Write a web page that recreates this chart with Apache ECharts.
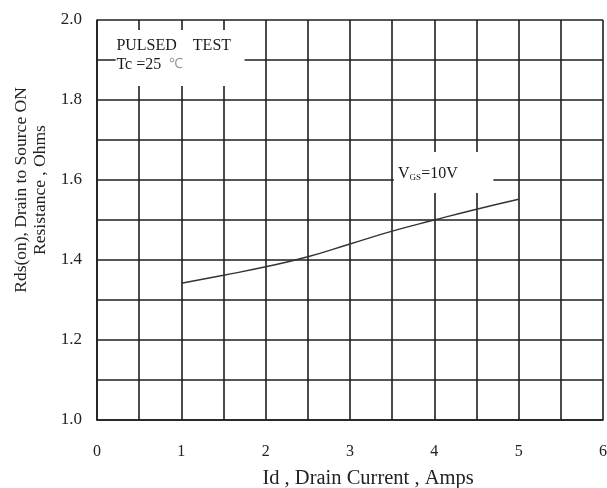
<!DOCTYPE html>
<html><head><meta charset="utf-8">
<script src="https://cdn.jsdelivr.net/npm/echarts@6/dist/echarts.min.js"></script>
<style>html,body{margin:0;padding:0;background:#fff}#c{width:607px;height:488px}</style>
</head><body><div id="c"></div>
<script>
const currentId = [1, 1.5, 2, 2.5, 3, 3.5, 4, 4.5, 5];
const rdsOn = [1.342, 1.362, 1.383, 1.408, 1.44, 1.472, 1.50, 1.527, 1.552];
const xTicks = [0, 1, 2, 3, 4, 5, 6];
const yTicks = [1.0, 1.2, 1.4, 1.6, 1.8, 2.0];
const noteLines = ['PULSED    TEST', 'Tc =25  '];
const curveLabel = ['V', 'GS', '=10V'];

const font = 'Liberation Serif';
const chart = echarts.init(document.getElementById('c'));
const gridLine = { show: true, lineStyle: { color: '#1e1e1e', width: 1.6 } };
chart.setOption({
  animation: false,
  backgroundColor: '#fff',
  grid: { left: 97, right: 4, top: 20, bottom: 68, containLabel: false, outerBoundsMode: 'none' },
  xAxis: {
    type: 'value', min: 0, max: 6, interval: 0.5,
    axisLine: { show: true, lineStyle: { color: '#1e1e1e', width: 1.6 } },
    axisTick: { show: false },
    splitLine: gridLine,
    axisLabel: {
      margin: 24, fontFamily: font, fontSize: 16, color: '#222',
      formatter: v => xTicks.indexOf(Math.round(v * 2) / 2) >= 0 ? String(Math.round(v * 2) / 2) : ''
    },
    name: 'Id , Drain Current , Amps', nameLocation: 'middle', nameGap: 48,
    nameTextStyle: { fontFamily: font, fontSize: 20.5, color: '#222', padding: [0, 0, 0, 36] }
  },
  yAxis: {
    type: 'value', min: 1.0, max: 2.0, interval: 0.1,
    axisLine: { show: true, lineStyle: { color: '#1e1e1e', width: 1.6 } },
    axisTick: { show: false },
    splitLine: gridLine,
    axisLabel: {
      margin: 15, fontFamily: font, fontSize: 17, color: '#222',
      formatter: v => {
        const r = Math.round(v * 10) / 10;
        return yTicks.some(t => Math.abs(t - r) < 1e-6) ? r.toFixed(1) : '';
      }
    },
    name: 'Rds(on), Drain to Source ON\nResistance , Ohms', nameLocation: 'middle', nameGap: 47,
    nameTextStyle: { fontFamily: font, fontSize: 17.5, color: '#222', lineHeight: 19, padding: [0, 0, 0, 60] }
  },
  series: [{
    type: 'line', smooth: true, symbol: 'none',
    data: currentId.map((x, i) => [x, rdsOn[i]]),
    lineStyle: { color: '#333', width: 1.4 },
    markArea: {
      silent: true,
      itemStyle: { color: '#fff', opacity: 1 },
      label: { show: false },
      data: [
        [{ coord: [0.22, 1.975] }, { coord: [1.75, 1.835] }],
        [{ coord: [3.52, 1.67] }, { coord: [4.7, 1.5675] }]
      ]
    },
    z: 3
  }]
});

function place() {
  const p1 = chart.convertToPixel({ gridIndex: 0 }, [0.23, 1.96]);
  const p2 = chart.convertToPixel({ gridIndex: 0 }, [3.57, 1.635]);
  chart.setOption({
    graphic: [
      { type: 'text', left: p1[0], top: p1[1], z: 10,
        style: { text: '{a|' + noteLines[0] + '}\n{a|' + noteLines[1] + '}{g|℃}', fill: '#222', fontFamily: font, fontSize: 16, lineHeight: 19,
          rich: { a: { fontFamily: font, fontSize: 16, fill: '#1a1a1a', lineHeight: 19 }, g: { fontFamily: font, fontSize: 14, fill: '#999', lineHeight: 19 } } } },
      { type: 'text', left: p2[0], top: p2[1], z: 10,
        style: { text: '{v|' + curveLabel[0] + '}{s|' + curveLabel[1] + '}{v|' + curveLabel[2] + '}', fontFamily: font,
          rich: { v: { fontFamily: font, fontSize: 16, fill: '#1a1a1a', verticalAlign: 'bottom' },
                  s: { fontFamily: font, fontSize: 9, fill: '#1a1a1a', verticalAlign: 'bottom', padding: [6, 0, 0, 0] } } } }
    ]
  });
}
place();
</script>
</body></html>
